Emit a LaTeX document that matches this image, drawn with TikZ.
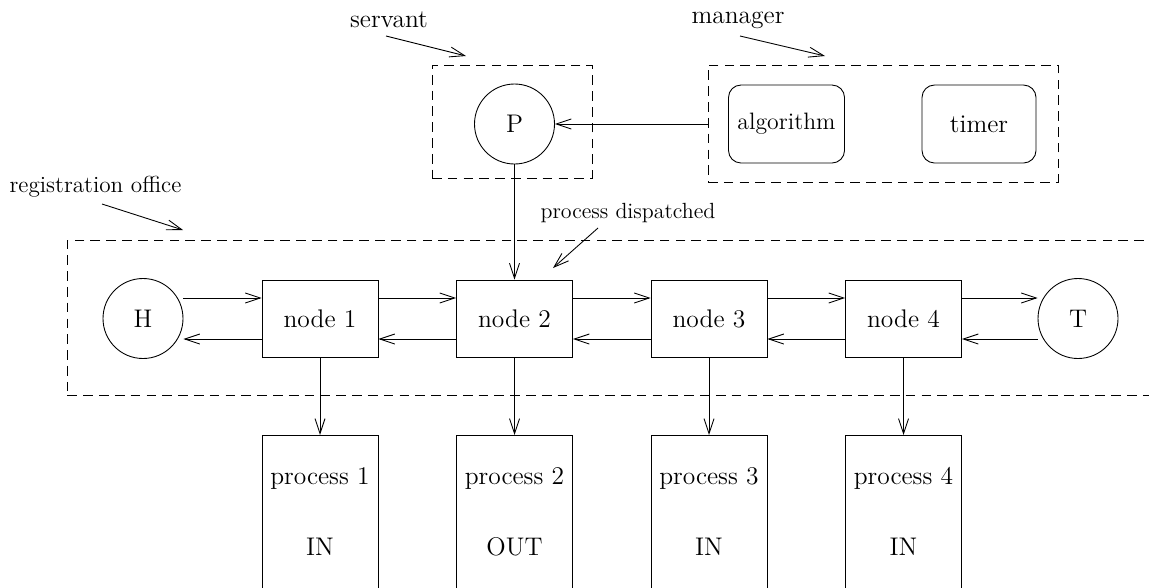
\documentclass[tikz,border=0pt]{standalone}
\usetikzlibrary{arrows.meta,positioning}
\begin{document}
\begin{tikzpicture}[line width=0.5pt,
  font=\fontsize{14.5pt}{17pt}\selectfont,
  seta/.style={-{Straight Barb[length=3mm,width=2mm]}},
  tracejado/.style={draw,dash pattern=on 5.5pt off 3.5pt},
  caixa/.style={draw,minimum width=2.32cm,minimum height=1.54cm,inner sep=0pt},
  circulo/.style={draw,circle,minimum size=1.6cm,inner sep=0pt},
  arredondado/.style={draw,rounded corners=0.25cm,minimum width=2.32cm,minimum height=1.56cm,inner sep=0pt},
  processo/.style={draw,anchor=north,minimum width=2.32cm,minimum height=3.4cm}]
  \useasboundingbox (0,0) rectangle (22.98,-11.74);

  %servant
  \node[tracejado,minimum width=3.2cm,minimum height=2.26cm] (srv) at (10.24,-2.43) {};
  \node[circulo] (P) at (10.29,-2.48) {P};
  \node (srvlbl) at (7.78,-0.4) {servant};
  \coordinate (s1) at (7.72,-0.72);
  \coordinate (s2) at (9.32,-1.12);
  \draw[seta] (s1) -- (s2);

  %manager
  \node[tracejado,minimum width=7cm,minimum height=2.34cm] (mgr) at (17.66,-2.47) {};
  \node[arredondado,font=\fontsize{13.5pt}{16pt}\selectfont] (alg) at (15.73,-2.48) {algorithm};
  \node[arredondado,minimum width=2.28cm] (tmr) at (19.58,-2.48) {timer};
  \node (mgrlbl) at (14.76,-0.4) {manager};
  \coordinate (m1) at (14.8,-0.72);
  \coordinate (m2) at (16.5,-1.12);
  \draw[seta] (m1) -- (m2);
  \draw[seta] (mgr.west |- P.east) -- (P.east);

  %registration office
  \node[tracejado,anchor=north west,minimum width=22.5cm,minimum height=3.1cm] (reg) at (1.34,-4.8) {};
  \node[font=\fontsize{13.2pt}{16pt}\selectfont] (reglbl) at (1.91,-3.74) {registration office};
  \coordinate (r1) at (2.04,-4.08);
  \coordinate (r2) at (3.66,-4.6);
  \draw[seta] (r1) -- (r2);

  \node[font=\fontsize{12.5pt}{15pt}\selectfont] (dsplbl) at (12.56,-4.26) {process dispatched};
  \coordinate (d1) at (11.96,-4.56);
  \coordinate (d2) at (11.06,-5.36);
  \draw[seta] (d1) -- (d2);

  %lista
  \node[circulo] (H) at (2.86,-6.37) {H};
  \node[caixa] (n1) at (6.4,-6.37) {node 1};
  \node[caixa] (n2) at (10.29,-6.37) {node 2};
  \node[caixa] (n3) at (14.18,-6.37) {node 3};
  \node[caixa] (n4) at (18.07,-6.37) {node 4};
  \node[circulo] (T) at (21.56,-6.37) {T};

  \draw[seta] ([yshift=0.41cm]H.east) -- ([yshift=0.41cm]n1.west);
  \draw[seta] ([yshift=-0.41cm]n1.west) -- ([yshift=-0.41cm]H.east);
  \draw[seta] ([yshift=0.41cm]n1.east) -- ([yshift=0.41cm]n2.west);
  \draw[seta] ([yshift=-0.41cm]n2.west) -- ([yshift=-0.41cm]n1.east);
  \draw[seta] ([yshift=0.41cm]n2.east) -- ([yshift=0.41cm]n3.west);
  \draw[seta] ([yshift=-0.41cm]n3.west) -- ([yshift=-0.41cm]n2.east);
  \draw[seta] ([yshift=0.41cm]n3.east) -- ([yshift=0.41cm]n4.west);
  \draw[seta] ([yshift=-0.41cm]n4.west) -- ([yshift=-0.41cm]n3.east);
  \draw[seta] ([yshift=0.41cm]n4.east) -- ([yshift=0.41cm]T.west);
  \draw[seta] ([yshift=-0.41cm]T.west) -- ([yshift=-0.41cm]n4.east);

  \draw[seta] (P) -- (n2);

  %processos
  \node[processo] (p1) at (6.4,-8.7) {};
  \node[processo] (p2) at (10.29,-8.7) {};
  \node[processo] (p3) at (14.18,-8.7) {};
  \node[processo] (p4) at (18.07,-8.7) {};
  \node (p1a) at ([yshift=-0.86cm]p1.north) {process 1};
  \node (p2a) at ([yshift=-0.86cm]p2.north) {process 2};
  \node (p3a) at ([yshift=-0.86cm]p3.north) {process 3};
  \node (p4a) at ([yshift=-0.86cm]p4.north) {process 4};
  \node (p1b) at ([yshift=-2.24cm]p1.north) {IN};
  \node (p2b) at ([yshift=-2.24cm]p2.north) {OUT};
  \node (p3b) at ([yshift=-2.24cm]p3.north) {IN};
  \node (p4b) at ([yshift=-2.24cm]p4.north) {IN};

  \draw[seta] (n1) -- (p1);
  \draw[seta] (n2) -- (p2);
  \draw[seta] (n3) -- (p3);
  \draw[seta] (n4) -- (p4);

\end{tikzpicture}
\end{document}
